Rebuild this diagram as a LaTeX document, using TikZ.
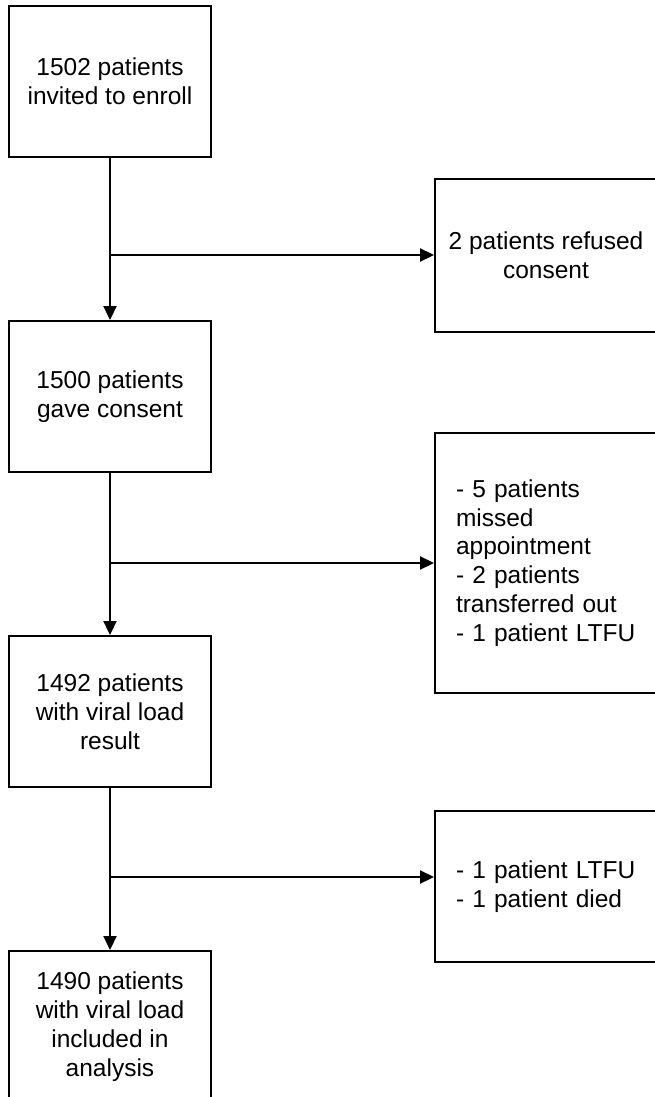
\documentclass[tikz,border=0pt]{standalone}
\usepackage{fontspec}
\setmainfont{Liberation Sans}
\usetikzlibrary{arrows.meta}
\begin{document}
\begin{tikzpicture}[x=1pt,y=-1pt,
  box/.style={draw,line width=1.9pt,inner sep=0pt,font=\fontsize{24.5}{28.8}\selectfont},
  lbox/.style={box,minimum width=202pt,minimum height=151pt,align=center},
  arr/.style={line width=1.9pt,-{Triangle[length=14pt,width=13pt]}}]
\useasboundingbox (0,0) rectangle (655,1097);
\clip (0,0) rectangle (655,1097);
\node[lbox] (a) at (110,81.5) {1502 patients\\invited to enroll};
\node[lbox] (b) at (110,396.5) {1500 patients\\gave consent};
\node[lbox] (c) at (110,711.5) {1492 patients\\with viral load\\result};
\node[lbox] (d) at (110,1026.5) {1490 patients\\with viral load\\included in\\analysis};
\node[box,minimum width=222pt,minimum height=153pt,align=center] (r1) at (546,255.5) {2 patients refused\\consent};
\node[box,minimum width=222pt,minimum height=260pt,text width=180pt,align=left] (r2) at (546,563) {- 5 patients\\missed\\appointment\\- 2 patients\\transferred out\\- 1 patient LTFU};
\node[box,minimum width=222pt,minimum height=151pt,text width=180pt,align=left] (r3) at (546,886.5) {- 1 patient LTFU\\- 1 patient died};
\coordinate (j1) at (110,255);
\coordinate (j2) at (110,563);
\coordinate (j3) at (110,877);
\draw[arr] (a.south) -- (b.north);
\draw[arr] (b.south) -- (c.north);
\draw[arr] (c.south) -- (d.north);
\draw[arr] (j1) -- (j1 -| r1.west);
\draw[arr] (j2) -- (j2 -| r2.west);
\draw[arr] (j3) -- (j3 -| r3.west);
\end{tikzpicture}
\end{document}
